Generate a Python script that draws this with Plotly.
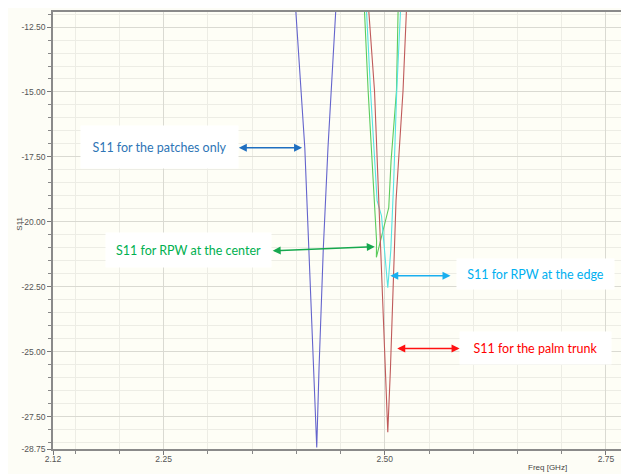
import plotly.graph_objects as go

# ---- data ----
patch_f = [2.390, 2.3995, 2.4096, 2.4144, 2.4200, 2.4231, 2.4257, 2.4305, 2.4358, 2.4445, 2.455]
patch_s11 = [-9.0, -11.92, -17.15, -21.04, -25.62, -28.69, -25.62, -21.04, -17.15, -11.92, -8.5]

trunk_f = [2.472, 2.4820, 2.4884, 2.4970, 2.5008, 2.5034, 2.5064, 2.5093, 2.5127, 2.5206, 2.5244, 2.535]
trunk_s11 = [-8.5, -11.92, -14.96, -22.65, -25.65, -28.10, -25.65, -22.65, -19.19, -14.96, -11.92, -8.5]

center_f = [2.468, 2.4771, 2.4812, 2.4907, 2.4905, 2.5045, 2.5071, 2.5132, 2.5150, 2.525]
center_s11 = [-8.5, -11.92, -14.96, -20.73, -21.37, -19.45, -17.65, -14.96, -11.92, -8.5]

edge_f = [2.470, 2.4794, 2.4839, 2.4913, 2.4963, 2.5034, 2.5068, 2.5101, 2.5135, 2.5177, 2.528]
edge_s11 = [-8.5, -11.92, -14.96, -19.19, -19.77, -22.54, -21.10, -18.42, -14.96, -11.92, -8.5]

y_ticks = [-12.5, -15.0, -17.5, -20.0, -22.5, -25.0, -27.5, -28.75]
y_tick_text = ["-12.50", "-15.00", "-17.50", "-20.00", "-22.50", "-25.00", "-27.50", "-28.75"]
x_ticks = [2.125, 2.25, 2.50, 2.75]
x_tick_text = ["2.12", "2.25", "2.50", "2.75"]

labels = ["S11 for the patches only", "S11 for RPW at the center",
          "S11 for RPW at the edge", "S11 for the palm trunk"]
label_colors = ["#2E75B6", "#00B050", "#00B0F0", "#FF0000"]
arrow_colors = ["#1F6FC0", "#16A84E", "#1AAFEF", "#FF1010"]
label_x = [2.2450, 2.2776, 2.6706, 2.6706]
label_y = [-17.10, -21.10, -22.00, -24.85]
label_w = [155, 163, 155, 149]
label_h = [40, 32, 28, 30]
arrow_x0 = [2.3333, 2.3716, 2.5045, 2.5124]
arrow_y0 = [-17.15, -21.12, -22.08, -24.88]
arrow_x1 = [2.4065, 2.4887, 2.5743, 2.5845]
arrow_y1 = [-17.15, -20.96, -22.08, -24.88]

fig = go.Figure()
for f, s, c in [(patch_f, patch_s11, "#6464CC"), (center_f, center_s11, "#5CCB5C"),
                (edge_f, edge_s11, "#55E3E3"), (trunk_f, trunk_s11, "#BF5A5A")]:
    fig.add_trace(go.Scatter(x=f, y=s, mode="lines", line=dict(color=c, width=1.1),
                             showlegend=False, hoverinfo="skip"))

# plot area in page pixels: x 53..627, y 11..449 (page has 8px body margin)
PL, PR, PT, PB = 53, 627, 11, 449
def px_to_paper(px, py):
    return (px - PL) / (PR - PL), (PB - py) / (PB - PT)

ann = []
for i in range(4):
    ann.append(dict(x=label_x[i], y=label_y[i], xref="x", yref="y", text=labels[i],
                    showarrow=False, bgcolor="white", width=label_w[i], height=label_h[i],
                    font=dict(family="Lato", size=12.5, color=label_colors[i])))
    ann.append(dict(x=arrow_x1[i], y=arrow_y1[i], ax=arrow_x0[i], ay=arrow_y0[i],
                    xref="x", yref="y", axref="x", ayref="y", text="",
                    showarrow=True, arrowhead=2, arrowside="end+start", arrowsize=1,
                    arrowwidth=1.6, arrowcolor=arrow_colors[i]))
sx, sy = px_to_paper(19, 223)
ann.append(dict(x=sx, y=sy, xref="paper", yref="paper", text="S11", showarrow=False,
                xanchor="center", yanchor="middle",
                textangle=-90, font=dict(family="Arial", size=8, color="#444")))
fx, fy = px_to_paper(549, 468)
ann.append(dict(x=fx, y=fy, xref="paper", yref="paper", text="Freq [GHz]",
                xanchor="center", yanchor="middle",
                showarrow=False, font=dict(family="Arial", size=8, color="#444")))

fig.update_layout(
    width=621, height=466,
    margin=dict(l=45, r=2, t=3, b=25),
    paper_bgcolor="#FDFDF6", plot_bgcolor="#FEFEF6",
    annotations=ann,
    xaxis=dict(range=[2.125, 2.7715], tickvals=x_ticks, ticktext=x_tick_text,
               ticks="outside", ticklen=4, tickcolor="#777", ticklabelstandoff=-3,
               showgrid=True, gridcolor="#DADAD2", gridwidth=1,
               minor=dict(dtick=0.05, tick0=2.0, ticks="outside", ticklen=3, tickcolor="#888",
                          showgrid=True, gridcolor="#EDEDE5"),
               showline=True, linecolor="#8A8A8A", linewidth=1.5, mirror=True,
               tickfont=dict(family="Arial", size=8.5, color="#555"), zeroline=False),
    yaxis=dict(range=[-28.75, -11.92], tickvals=y_ticks, ticktext=y_tick_text,
               ticks="outside", ticklen=4, tickcolor="#777",
               showgrid=True, gridcolor="#DADAD2", gridwidth=1,
               minor=dict(dtick=0.5, tick0=-12.5, ticks="outside", ticklen=3, tickcolor="#888",
                          showgrid=True, gridcolor="#EDEDE5"),
               showline=True, linecolor="#8A8A8A", linewidth=1.5, mirror=True,
               tickfont=dict(family="Arial", size=8.5, color="#555"), zeroline=False),
)
fig.write_html("out.html", config={"displayModeBar": False})
